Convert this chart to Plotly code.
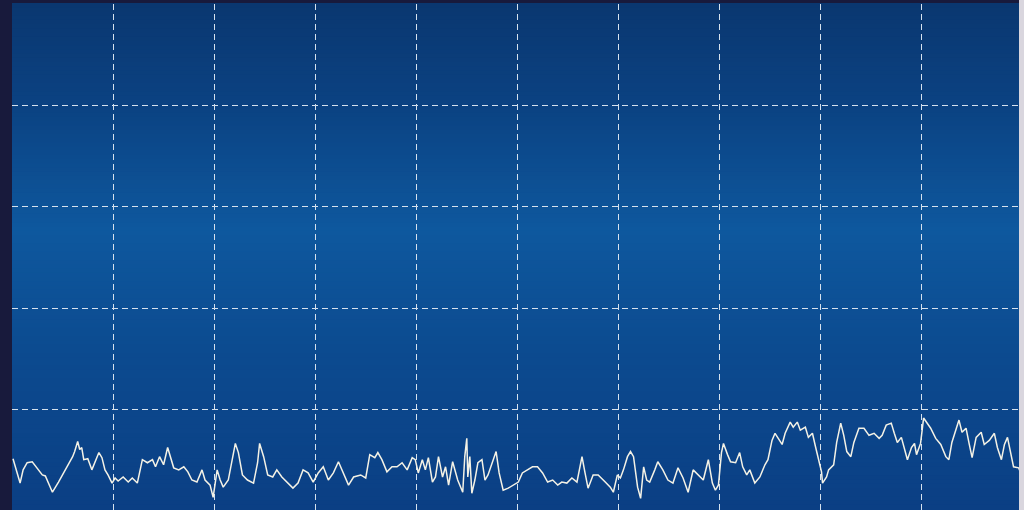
import plotly.graph_objects as go

# Time (µs) and amplitude (mV)
time_us = [1, 8, 11, 15, 20, 25, 30, 33, 40, 46, 53, 60, 62, 65, 67, 69, 71, 75, 79, 82,
           86, 89, 92, 95, 99, 102, 105, 110, 115, 119, 124, 129, 134, 139, 142, 146, 150, 154, 157, 160,
           165, 170, 174, 178, 183, 188, 191, 196, 199, 203, 206, 209, 214, 218, 221, 224, 228, 233, 239, 243,
           245, 249, 253, 258, 262, 267, 273, 278, 283, 288, 293, 298, 303, 308, 313, 318, 323, 328, 333, 338,
           345, 350, 354, 359, 362, 366, 371, 376, 381, 386, 391, 396, 399, 402, 406, 409, 412, 416, 419, 422,
           426, 429, 432, 436, 441, 446, 448, 450, 451, 453, 455, 458, 461, 465, 468, 471, 475, 479, 482, 486,
           491, 496, 501, 505, 510, 515, 520, 525, 530, 535, 540, 544, 549, 554, 559, 564, 567, 570, 575, 580,
           587, 592, 595, 599, 602, 605, 609, 612, 615, 619, 622, 625, 628, 631, 636, 639, 644, 649, 654, 659,
           664, 669, 674, 679, 684, 689, 693, 696, 699, 702, 704, 708, 711, 716, 720, 723, 727, 730, 735, 740,
           745, 748, 752, 755, 758, 762, 765, 770, 773, 777, 780, 785, 788, 792, 795, 797, 801, 802, 806, 808,
           813, 816, 820, 823, 826, 830, 833, 838, 843, 848, 853, 858, 861, 865, 870, 873, 876, 880, 883, 886,
           890, 893, 895, 899, 902, 905, 909, 914, 919, 924, 927, 930, 934, 937, 940, 944, 947, 950, 954, 959,
           962, 967, 972, 975, 979, 982, 985, 988, 991, 996, 999]
amplitude_mv = [52, 28, 41, 48, 49, 43, 36, 35, 19, 29, 41, 54, 59, 69, 61, 63, 51, 52, 41, 49,
                58, 53, 41, 36, 28, 33, 30, 34, 29, 33, 28, 51, 48, 51, 44, 54, 46, 63, 53, 43,
                41, 44, 39, 31, 29, 41, 31, 26, 14, 41, 31, 24, 31, 51, 67, 58, 36, 31, 28, 48,
                67, 54, 36, 34, 41, 34, 28, 23, 28, 41, 38, 29, 38, 44, 31, 38, 49, 38, 26, 34,
                36, 33, 56, 53, 58, 51, 39, 44, 44, 48, 41, 53, 51, 38, 51, 41, 53, 29, 34, 54,
                34, 44, 26, 49, 31, 19, 54, 72, 34, 54, 18, 31, 48, 51, 31, 36, 48, 59, 38, 21,
                23, 26, 29, 38, 41, 44, 44, 38, 29, 31, 26, 29, 28, 33, 29, 54, 38, 23, 36, 36,
                29, 24, 19, 36, 33, 41, 54, 59, 54, 24, 13, 44, 31, 29, 41, 49, 41, 31, 28, 43,
                33, 19, 41, 36, 31, 51, 28, 21, 26, 58, 67, 56, 49, 48, 58, 44, 36, 41, 28, 34,
                46, 51, 70, 77, 72, 66, 77, 88, 83, 88, 80, 83, 73, 77, 64, 56, 39, 28, 34, 41,
                46, 68, 87, 75, 59, 54, 68, 82, 82, 75, 77, 72, 75, 85, 87, 77, 68, 73, 63, 51,
                63, 67, 56, 67, 92, 88, 82, 72, 66, 54, 51, 68, 82, 90, 78, 82, 67, 53, 73, 78,
                66, 70, 77, 63, 51, 66, 73, 58, 44, 43, 36]

grid_x = [100, 200, 300, 400, 500, 600, 700, 800, 900]
grid_y = [100, 200, 300, 400]

# background gradient (top -> middle -> bottom)
stops = [(0.0, (10, 55, 112)), (0.2, (11, 66, 130)), (0.45, (14, 88, 158)),
         (0.7, (12, 74, 143)), (1.0, (11, 63, 132))]


def grad_color(f):
    for (p0, c0), (p1, c1) in zip(stops[:-1], stops[1:]):
        if p0 <= f <= p1:
            t = (f - p0) / (p1 - p0)
            return "rgb(%d,%d,%d)" % tuple(round(a + (b - a) * t) for a, b in zip(c0, c1))
    return "rgb(%d,%d,%d)" % stops[-1][1]


shapes = []
N = 120
for i in range(N):
    f_top = i / N  # fraction from top
    shapes.append(dict(type="rect", xref="x domain", yref="y domain",
                       x0=0, x1=1, y0=1 - (i + 1) / N, y1=1 - i / N + 0.002,
                       fillcolor=grad_color(f_top + 0.5 / N), line=dict(width=0),
                       layer="below"))
# light strip at right edge
shapes.append(dict(type="rect", xref="paper", yref="paper", x0=1.0, x1=1.006,
                   y0=-0.01, y1=1.01, fillcolor="#d9d6de", line=dict(width=0), layer="above"))

fig = go.Figure()
fig.add_trace(go.Scatter(x=time_us, y=amplitude_mv, mode="lines",
                         line=dict(color="#f4f2e6", width=1.5), hoverinfo="skip"))

grid_style = dict(showgrid=True, gridcolor="#d6e2ee", gridwidth=1, griddash="6px,4px",
                  showticklabels=False, ticks="", zeroline=False, showline=False)
fig.update_layout(
    width=1024, height=510,
    margin=dict(l=12, r=5, t=4, b=0),
    paper_bgcolor="#181a3c",
    plot_bgcolor="#0d4d94",
    showlegend=False,
    shapes=shapes,
    xaxis=dict(range=[0, 996.4], tickmode="array", tickvals=grid_x, **grid_style),
    yaxis=dict(range=[1.5, 499.5], tickmode="array", tickvals=grid_y, **grid_style),
)
fig.write_html("out.html", config={"displayModeBar": False},
               post_script="document.body.style.margin='0';document.body.style.overflow='hidden';")
